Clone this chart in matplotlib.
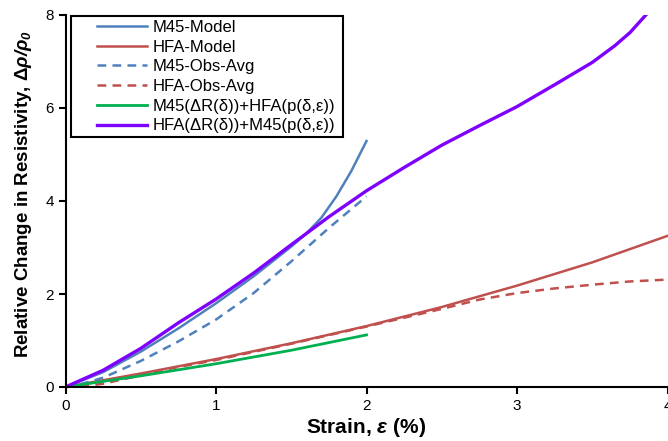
import numpy as np
from matplotlib import pyplot as plt
from matplotlib.patches import Rectangle

plt.rcParams['font.family'] = ['Liberation Sans', 'DejaVu Sans']
plt.rcParams['mathtext.fontset'] = 'custom'
plt.rcParams['mathtext.rm'] = 'Liberation Sans'
plt.rcParams['mathtext.it'] = 'Liberation Sans:italic'
plt.rcParams['mathtext.bf'] = 'Liberation Sans:bold'
plt.rcParams['mathtext.bfit'] = 'Liberation Sans:bold:italic'

# strain (%) and relative resistivity change for each curve
m45_strain = [0, 0.25, 0.5, 0.75, 1.0, 1.25, 1.5, 1.6, 1.7, 1.8, 1.9, 2.0]
m45_model = [0, 0.32, 0.76, 1.26, 1.80, 2.38, 3.02, 3.30, 3.64, 4.10, 4.65, 5.29]

m45_obs_strain = [0, 0.1, 0.25, 0.5, 0.75, 1.0, 1.25, 1.5, 1.75, 2.0]
m45_obs = [0, 0.06, 0.2, 0.56, 0.98, 1.45, 2.02, 2.70, 3.42, 4.10]

hfa_strain = [0, 0.5, 1.0, 1.5, 2.0, 2.5, 3.0, 3.5, 4.0]
hfa_model = [0, 0.29, 0.60, 0.94, 1.31, 1.72, 2.18, 2.68, 3.25]

hfa_obs_strain = [0, 0.1, 0.25, 0.5, 0.75, 1.0, 1.5, 2.0, 2.5, 2.75, 3.0, 3.25, 3.5, 3.75, 4.0]
hfa_obs = [0, 0.01, 0.07, 0.25, 0.43, 0.58, 0.93, 1.30, 1.68, 1.88, 2.02, 2.12, 2.20, 2.27, 2.31]

mix1_strain = [0, 0.5, 1.0, 1.5, 2.0]
mix1 = [0, 0.24, 0.50, 0.79, 1.12]

mix2_strain = [0, 0.25, 0.5, 0.75, 1.0, 1.25, 1.5, 1.75, 2.0, 2.25, 2.5, 2.75,
               3.0, 3.25, 3.5, 3.65, 3.75, 3.87]
mix2 = [0, 0.36, 0.83, 1.38, 1.89, 2.45, 3.06, 3.66, 4.22, 4.72, 5.20, 5.62,
        6.03, 6.50, 6.98, 7.34, 7.62, 8.05]

blue = '#4f81bd'
red = '#c0504d'
green = '#00b050'
purple = '#7f00ff'

fig = plt.figure(figsize=(6.68, 4.41), dpi=100)
ax = fig.add_axes([65.5 / 668, 54 / 441, 602 / 668, 372 / 441])

ax.plot(m45_strain, m45_model, color=blue, lw=1.8, label='M45-Model')
ax.plot(hfa_strain, hfa_model, color=red, lw=1.8, label='HFA-Model')
ax.plot(m45_obs_strain, m45_obs, color=blue, lw=1.8, dashes=(3.5, 2.5), label='M45-Obs-Avg')
ax.plot(hfa_obs_strain, hfa_obs, color=red, lw=1.8, dashes=(3.5, 2.5), label='HFA-Obs-Avg')
ax.plot(mix1_strain, mix1, color=green, lw=2.0, label='M45(ΔR(δ))+HFA(p(δ,ε))')
ax.plot(mix2_strain, mix2, color=purple, lw=2.4, label='HFA(ΔR(δ))+M45(p(δ,ε))')

ax.set_xlim(0, 4)
ax.set_ylim(0, 8)
ax.set_xticks([0, 1, 2, 3, 4])
ax.set_yticks([0, 2, 4, 6, 8])
ax.spines['top'].set_visible(False)
ax.spines['right'].set_visible(False)
ax.spines['left'].set_linewidth(1.5)
ax.spines['bottom'].set_linewidth(1.5)
ax.tick_params(direction='out', length=5, width=1.5, labelsize=11)

ax.set_xlabel(r'Strain, $\mathbfit{\varepsilon}$ (%)', fontsize=15, fontweight='bold', labelpad=2)
ax.set_ylabel(r'Relative Change in Resistivity, $\mathbf{\Delta}\mathbfit{\rho/\rho_0}$',
              fontsize=13.5, fontweight='bold')
ax.yaxis.set_label_coords(-0.052, 0.52)

# legend box drawn separately so the handles sit further in from the left edge
box = Rectangle((71 / 668, 1 - 137 / 441), 272 / 668, 121 / 441, transform=fig.transFigure,
                facecolor='white', edgecolor='black', lw=1.5, zorder=4, clip_on=False)
ax.add_patch(box)
leg = ax.legend(loc='upper left', bbox_to_anchor=(97 / 668, 1 - 20 / 441),
                bbox_transform=fig.transFigure, fontsize=12, frameon=False,
                handlelength=3.0, handletextpad=0.36, labelspacing=0.28,
                borderpad=0, borderaxespad=0)
leg.set_zorder(5)

fig.savefig('out.png', dpi=100)
